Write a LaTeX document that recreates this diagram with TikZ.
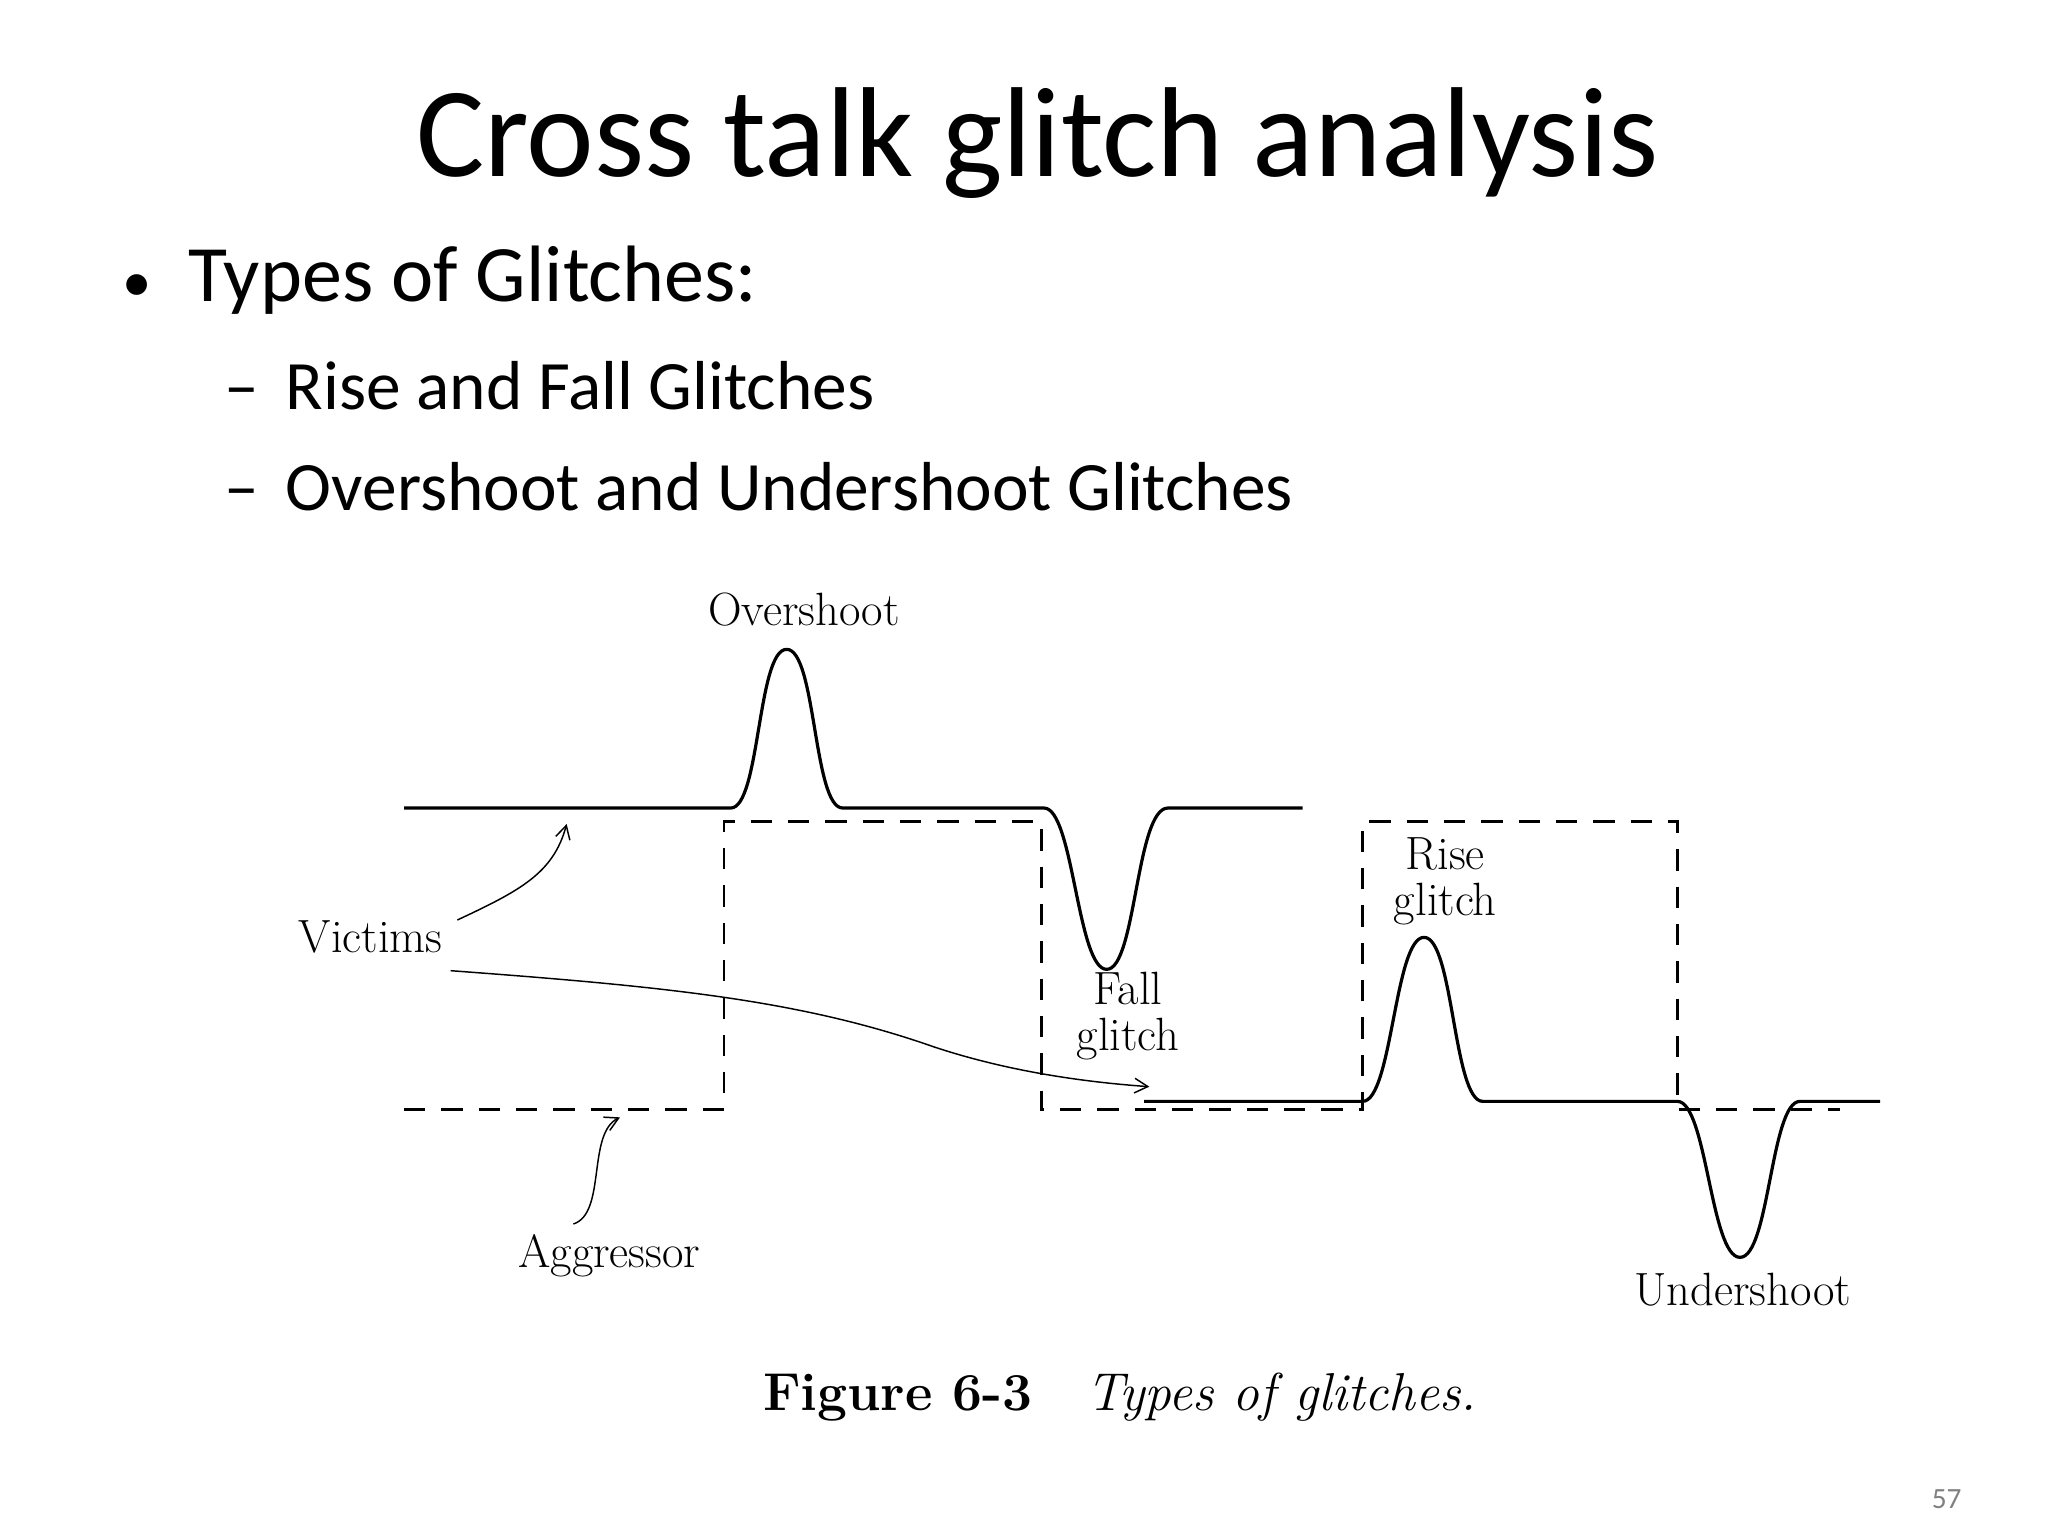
\documentclass[tikz,border=0pt]{standalone}
\usepackage{fontspec}
\setsansfont{Carlito}
\usetikzlibrary{arrows.meta}
\begin{document}
\begin{tikzpicture}[x=1pt,y=-1pt,
  wave/.style={line width=2.4pt,line join=round},
  aggr/.style={line width=2.2pt,dash pattern=on 16pt off 12pt},
  lbl/.style={font=\fontsize{35}{34}\selectfont,align=center,inner sep=0pt},
  pointer/.style={line width=1.1pt,-{Straight Barb[length=10pt,width=11pt]}}]
\useasboundingbox (0,0) rectangle (1536,1152);
\node[font=\sffamily\fontsize{96}{98}\selectfont] (title) at (778,107) {Cross talk glitch analysis};
\node[font=\sffamily\fontsize{60}{62}\selectfont,anchor=west] (b1) at (88,210) {{\fontsize{44}{44}\selectfont\textbullet}\hspace{28pt}Types of Glitches:};
\node[font=\sffamily\fontsize{52}{54}\selectfont,anchor=west] (b2) at (165,289) {–\hspace{20pt}Rise and Fall Glitches};
\node[font=\sffamily\fontsize{52}{54}\selectfont,anchor=west] (b3) at (165,365) {–\hspace{20pt}Overshoot and Undershoot Glitches};
% victim 1
\draw[wave] (303,606) -- (548,606) .. controls (570,606) and (568,487) .. (590,487) .. controls (612,487) and (610,606) .. (632,606) -- (783,606) .. controls (805,606) and (808,727) .. (830,727) .. controls (852,727) and (852,606) .. (876,606) -- (977,606);
% victim 2
\draw[wave] (858,826) -- (1022,826) .. controls (1044,826) and (1046,703) .. (1068,703) .. controls (1090,703) and (1090,826) .. (1112,826) -- (1258,826) .. controls (1280,826) and (1283,943) .. (1305,943) .. controls (1327,943) and (1328,826) .. (1350,826) -- (1410,826);
% aggressor
\draw[aggr] (303,832) -- (543,832) -- (543,616) -- (781,616) -- (781,832) -- (1022,832) -- (1022,616) -- (1258,616) -- (1258,832) -- (1380,832);
\node[lbl] (over) at (603,457) {Overshoot};
\node[lbl] (vic) at (278,703) {Victims};
\node[lbl] (fall) at (846,762) {Fall\\glitch};
\node[lbl] (rise) at (1084,661) {Rise\\glitch};
\node[lbl] (agg) at (457,942) {Aggressor};
\node[lbl] (under) at (1307,967) {Undershoot};
\coordinate (v1) at (425,618);
\coordinate (v2) at (862,815);
\coordinate (a1) at (465,838);
\coordinate (s1) at (343,690);
\coordinate (s2) at (338,728);
\coordinate (s3) at (430,918);
\draw[pointer] (s1) .. controls (390,668) and (415,655) .. (v1);
\draw[pointer] (s2) .. controls (500,740) and (600,750) .. (700,785) .. controls (760,805) and (820,812) .. (v2);
\draw[pointer] (s3) .. controls (455,910) and (440,850) .. (a1);
\node[font=\fontsize{40}{42}\selectfont] (cap) at (840,1048) {\textbf{Figure 6-3}\quad\textit{Types of glitches.}};
\node[font=\sffamily\fontsize{22}{24}\selectfont,text=gray] (pg) at (1460,1124) {57};
\end{tikzpicture}
\end{document}
